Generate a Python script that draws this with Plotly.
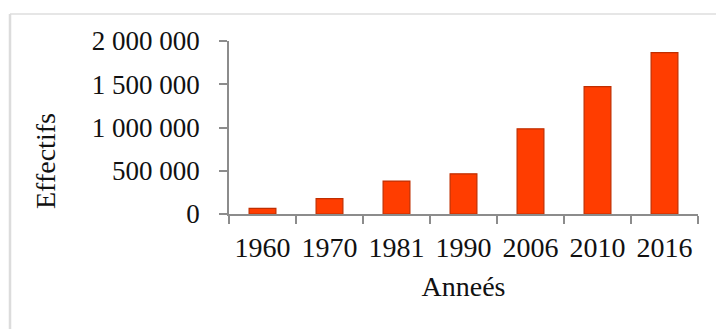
import plotly.graph_objects as go

# Population counts by census year
annees = ["1960", "1970", "1981", "1990", "2006", "2010", "2016"]
effectifs = [65000, 178000, 381000, 465000, 985000, 1473000, 1865000]

# Y-axis ticks with space as thousands separator
y_ticks = [0, 500000, 1000000, 1500000, 2000000]
y_tick_labels = ["0", "500 000", "1 000 000", "1 500 000", "2 000 000"]

W, H = 716, 329
ml, mr, mt, mb = 229, 18, 41, 115

fig = go.Figure(
    go.Bar(
        x=annees,
        y=effectifs,
        width=0.4,
        marker=dict(color="#FF3D00", line=dict(color="#C02E00", width=1.2)),
    )
)

serif = "Liberation Serif, Times New Roman, serif"

fig.update_layout(
    width=W,
    height=H,
    margin=dict(l=ml, r=mr, t=mt, b=mb),
    paper_bgcolor="white",
    plot_bgcolor="white",
    showlegend=False,
    font=dict(family=serif, color="#111111"),
    xaxis=dict(
        type="category",
        automargin=False,
        showline=True,
        linecolor="#8c8c8c",
        linewidth=1.5,
        ticks="outside",
        tickson="boundaries",
        ticklen=8,
        tickwidth=1.5,
        tickcolor="#8c8c8c",
        tickangle=0,
        tickfont=dict(size=28, family=serif),
        ticklabelstandoff=8,
        showgrid=False,
        title=dict(text="Anneés", font=dict(size=28, family=serif), standoff=14),
    ),
    yaxis=dict(
        automargin=False,
        range=[0, 2000000],
        tickvals=y_ticks,
        ticktext=y_tick_labels,
        showline=True,
        linecolor="#8c8c8c",
        linewidth=1.5,
        ticks="outside",
        ticklen=8,
        tickwidth=1.5,
        tickcolor="#8c8c8c",
        tickfont=dict(size=27, family=serif),
        ticklabelstandoff=14,
        showgrid=False,
        zeroline=False,
    ),
)

# Vertical axis title placed as an annotation
pw = W - ml - mr
ph = H - mt - mb
fig.add_annotation(
    text="Effectifs",
    textangle=-90,
    xref="paper",
    yref="paper",
    x=(45 - ml) / pw,
    y=(H - mb - 161) / ph,
    xanchor="center",
    yanchor="middle",
    showarrow=False,
    font=dict(size=28, family=serif, color="#111111"),
)

# Light frame around the chart
fx0 = (10 - ml) / pw
fy_top = (H - mb - 14) / ph
fig.add_shape(type="line", xref="paper", yref="paper",
              x0=fx0, x1=(W + 5 - ml) / pw, y0=fy_top, y1=fy_top,
              line=dict(color="#dedede", width=1.5))
fig.add_shape(type="line", xref="paper", yref="paper",
              x0=fx0, x1=fx0, y0=fy_top, y1=-(mb + 5) / ph,
              line=dict(color="#dcdcdc", width=2.5))

fig.write_html("out.html")
